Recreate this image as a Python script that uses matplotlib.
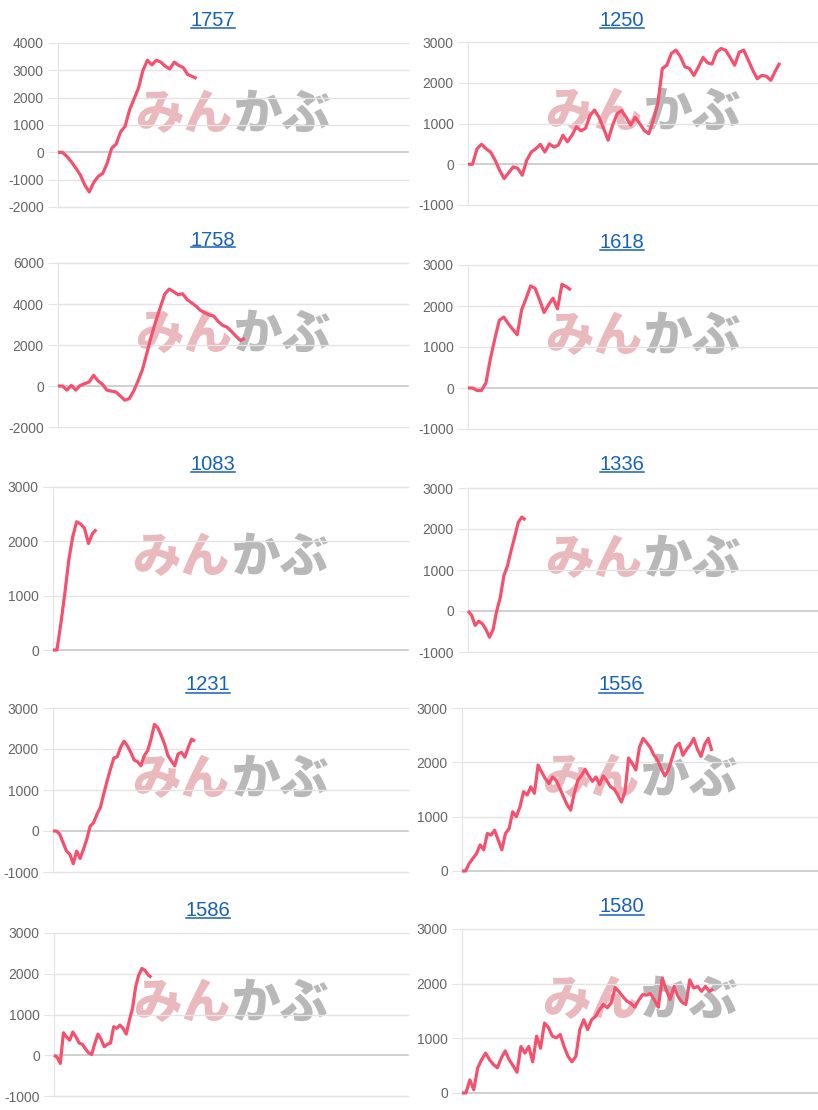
import matplotlib
matplotlib.use("Agg")
import matplotlib.pyplot as plt
from matplotlib.lines import Line2D

plt.rcParams['font.family'] = ['Liberation Sans', 'DejaVu Sans']
plt.rcParams['axes.unicode_minus'] = False

# --- DATA ---
titles = ['1757', '1250', '1758', '1618', '1083', '1336', '1231', '1556', '1586', '1580']

s1757 = [0, 0, -150, -350, -580, -830, -1200, -1450, -1100, -880, -770, -400, 150, 300,
         750, 950, 1550, 1950, 2350, 3000, 3370, 3200, 3370, 3300, 3150, 3050, 3300, 3180,
         3100, 2850, 2780, 2700]
s1250 = [0, 0, 380, 490, 380, 300, 100, -150, -350, -210, -65, -100, -270, 100, 300, 380,
         490, 300, 500, 420, 470, 710, 550, 710, 920, 820, 880, 1200, 1330, 1150, 880, 590,
         960, 1240, 1320, 1150, 960, 1150, 1000, 830, 750, 1080, 1490, 2350, 2430, 2720,
         2800, 2640, 2390, 2350, 2180, 2390, 2620, 2490, 2460, 2750, 2840, 2800, 2620, 2430,
         2750, 2800, 2560, 2310, 2100, 2180, 2160, 2060, 2290, 2490]
s1758 = [0, 0, -200, 30, -200, 30, 110, 200, 520, 250, 80, -200, -250, -290, -490, -690,
         -620, -250, 250, 820, 1630, 2450, 3180, 3840, 4490, 4730, 4600, 4450, 4500, 4220,
         4060, 3900, 3690, 3570, 3470, 3410, 3150, 2960, 2870, 2660, 2430, 2220, 2330]
s1618 = [0, 0, -60, -60, 120, 710, 1200, 1650, 1730, 1570, 1430, 1300, 1910, 2190, 2490,
         2430, 2150, 1840, 2030, 2190, 1930, 2530, 2470, 2390]
s1083 = [0, 0, 490, 1040, 1650, 2080, 2360, 2320, 2240, 1960, 2140, 2220]
s1336 = [0, -100, -350, -250, -310, -450, -640, -450, 0, 330, 860, 1100, 1470, 1800, 2160,
         2290, 2220]
s1231 = [0, 0, -80, -290, -490, -570, -800, -490, -670, -450, -200, 120, 200, 410, 570, 900,
         1220, 1510, 1780, 1810, 2040, 2190, 2080, 1920, 1730, 1690, 1590, 1840, 1960, 2240,
         2600, 2520, 2330, 2120, 1840, 1710, 1590, 1880, 1920, 1800, 2040, 2240, 2190]
s1556 = [0, 0, 140, 230, 320, 480, 390, 690, 660, 750, 570, 390, 690, 780, 1090, 1000, 1180,
         1460, 1400, 1550, 1430, 1950, 1820, 1700, 1610, 1730, 1670, 1520, 1370, 1220, 1120,
         1430, 1670, 1760, 1870, 1750, 1650, 1730, 1590, 1750, 1660, 1550, 1510, 1400, 1270,
         1460, 2080, 1980, 1860, 2280, 2440, 2360, 2270, 2130, 2040, 1880, 1750, 1860, 2080,
         2290, 2350, 2130, 2240, 2320, 2440, 2240, 2110, 2330, 2440, 2210]
s1586 = [0, -50, -200, 550, 450, 370, 570, 450, 300, 270, 160, 60, 20, 290, 520, 390, 210,
         270, 300, 700, 660, 740, 660, 520, 860, 1150, 1680, 1970, 2130, 2080, 1970, 1910]
s1580 = [0, 0, 240, 60, 460, 610, 730, 610, 520, 460, 640, 770, 610, 500, 380, 850, 730, 850,
         570, 1040, 820, 1280, 1200, 1040, 1010, 1070, 850, 670, 570, 670, 1160, 1340, 1160,
         1340, 1400, 1520, 1620, 1560, 1650, 1930, 1850, 1760, 1680, 1640, 1570, 1700, 1800,
         1790, 1820, 1700, 1570, 2100, 1890, 1710, 1950, 1770, 1660, 1620, 2070, 1920, 1950,
         1860, 1950, 1860, 1900]

series = [s1757, s1250, s1758, s1618, s1083, s1336, s1231, s1556, s1586, s1580]

y_ranges = [(-2000, 4000, 1000), (-1000, 3000, 1000), (-2000, 6000, 2000), (-1000, 3000, 1000),
            (0, 3000, 1000), (-1000, 3000, 1000), (-1000, 3000, 1000), (0, 3000, 1000),
            (-1000, 3000, 1000), (0, 3000, 1000)]

# --- LAYOUT (pixels) ---
W, H = 818, 1110
# left, right, top, bottom of each plot area
boxes = [(58, 408, 43, 207), (468, 818, 42, 205),
         (58, 408, 263, 427), (468, 818, 265, 429),
         (53, 408, 487, 650), (468, 818, 488, 652),
         (53, 408, 708, 872), (462, 818, 708, 871),
         (54, 408, 933, 1096), (462, 818, 929, 1093)]
title_pos = [(213, 20), (622, 20), (213, 240), (622, 242), (213, 464),
             (622, 465), (208, 685), (621, 685), (208, 910), (622, 907)]
# fraction of the plot width the line reaches
line_end = [0.396, 0.891, 0.534, 0.294, 0.122, 0.164, 0.40, 0.702, 0.275, 0.706]

line_color = '#f5506e'
grid_color = '#e4e4e4'

fig = plt.figure(figsize=(W / 100, H / 100), dpi=100)
fig.patch.set_facecolor('white')

title_texts = []
for i, vals in enumerate(series):
    l, r, t, b = boxes[i]
    ax = fig.add_axes([l / W, 1 - b / H, (r - l) / W, (b - t) / H])
    ymin, ymax, step = y_ranges[i]
    ticks = list(range(ymin, ymax + 1, step))
    ax.set_ylim(ymin, ymax)
    ax.set_yticks(ticks)
    n = len(vals)
    ax.set_xlim(0, (n - 1) / line_end[i])
    ax.set_xticks([])

    # horizontal grid, zero line darker
    for v in ticks:
        c = '#c2c2c2' if v == 0 else grid_color
        ax.axhline(v, color=c, linewidth=1.1 if v == 0 else 1.0, zorder=1, clip_on=False)
    for side in ['top', 'right', 'bottom']:
        ax.spines[side].set_visible(False)
    ax.spines['left'].set_color(grid_color)
    ax.tick_params(axis='y', length=7.2, width=0.8, color=grid_color,
                   labelcolor='#666666', labelsize=10, pad=3)

    # watermark
    ax.text(0.497, 0.565, 'みん', transform=ax.transAxes, ha='right', va='center',
            fontsize=35, fontweight='black', color='#e9b9bd',
            family=['Noto Sans CJK JP'], zorder=0)
    ax.text(0.503, 0.565, 'かぶ', transform=ax.transAxes, ha='left', va='center',
            fontsize=35, fontweight='black', color='#b8b8b8',
            family=['Noto Sans CJK JP'], zorder=0)

    ax.plot(range(n), vals, color=line_color, linewidth=2.3,
            solid_joinstyle='round', solid_capstyle='butt', zorder=3, clip_on=False)

    tx, ty = title_pos[i]
    title_texts.append(fig.text(tx / W, 1 - ty / H, titles[i], ha='center', va='center',
                                fontsize=14.5, color='#1762b8'))

# underline the titles like links
fig.canvas.draw()
renderer = fig.canvas.get_renderer()
inv = fig.transFigure.inverted()
for txt in title_texts:
    bb = txt.get_window_extent(renderer)
    x0, y0 = inv.transform((bb.x0, bb.y0 + 2))
    x1, _ = inv.transform((bb.x1, bb.y0 + 2))
    fig.add_artist(Line2D([x0, x1], [y0, y0], color='#1762b8', linewidth=1.1,
                          transform=fig.transFigure))

fig.savefig('out.png', dpi=100)
